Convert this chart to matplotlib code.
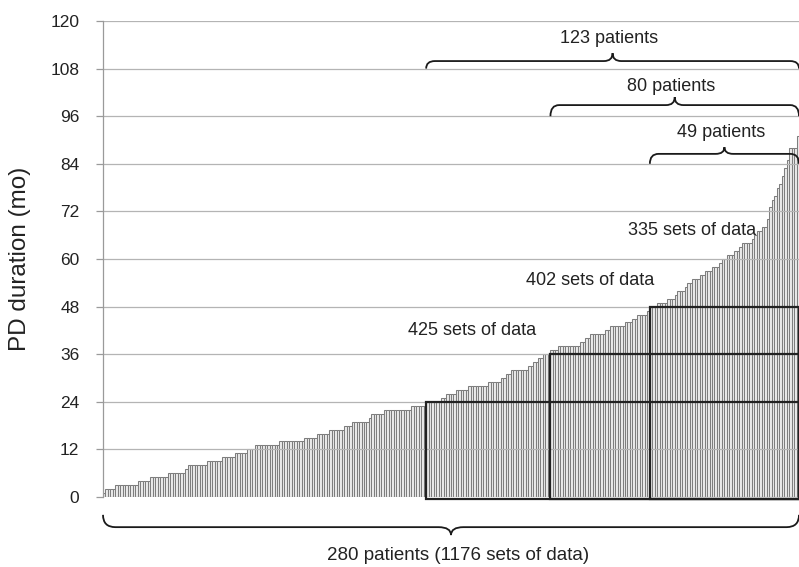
import numpy as np
import matplotlib
matplotlib.use("Agg")
import matplotlib.pyplot as plt
from matplotlib.path import Path
from matplotlib.patches import PathPatch, Rectangle

plt.rcParams['font.family'] = ['Liberation Sans', 'DejaVu Sans']

# PD duration (months) per patient, sorted ascending
durations = [
    1,
    2, 2, 2, 2,
    3, 3, 3, 3, 3, 3, 3, 3, 3,
    4, 4, 4, 4, 4,
    5, 5, 5, 5, 5, 5, 5,
    6, 6, 6, 6, 6, 6, 6,
    7,
    8, 8, 8, 8, 8, 8, 8, 8,
    9, 9, 9, 9, 9, 9,
    10, 10, 10, 10, 10,
    11, 11, 11, 11, 11,
    12, 12, 12,
    13, 13, 13, 13, 13, 13, 13, 13, 13, 13,
    14, 14, 14, 14, 14, 14, 14, 14, 14, 14,
    15, 15, 15, 15, 15,
    16, 16, 16, 16, 16,
    17, 17, 17, 17, 17, 17,
    18, 18, 18,
    19, 19, 19, 19, 19, 19, 19,
    20,
    21, 21, 21, 21, 21,
    22, 22, 22, 22, 22, 22, 22, 22, 22, 22, 22,
    23, 23, 23, 23, 23, 23,
    24, 24, 24, 24, 24, 24,
    25, 25,
    26, 26, 26, 26,
    27, 27, 27, 27, 27,
    28, 28, 28, 28, 28, 28, 28, 28,
    29, 29, 29, 29, 29,
    30, 30,
    31, 31,
    32, 32, 32, 32, 32, 32, 32,
    33, 33,
    34, 34,
    35, 35,
    36, 36, 36,
    37, 37, 37,
    38, 38, 38, 38, 38, 38, 38, 38, 38,
    39, 39,
    40, 40,
    41, 41, 41, 41, 41, 41,
    42, 42,
    43, 43, 43, 43, 43, 43,
    44, 44, 44,
    45, 45,
    46, 46, 46, 46,
    47,
    48, 48, 48,
    49, 49, 49, 49,
    50, 50, 50,
    51,
    52, 52, 52,
    53,
    54, 54,
    55, 55, 55,
    56, 56,
    57, 57, 57,
    58, 58, 58,
    59,
    60, 60,
    61, 61, 61,
    62, 62,
    63,
    64, 64, 64, 64,
    65,
    66,
    67, 67,
    68, 68,
    70, 73, 75, 76, 78, 79, 81, 83, 85,
    88, 88, 88,
    91,
]

# Groups (start patient index, threshold in months, labels)
group_starts = [130, 180, 220]
group_thresholds = [24, 36, 48]
group_patient_labels = ["123 patients", "80 patients", "49 patients"]
group_data_labels = ["425 sets of data", "402 sets of data", "335 sets of data"]
total_label = "280 patients (1176 sets of data)"

yticks = [0, 12, 24, 36, 48, 60, 72, 84, 96, 108, 120]

n = len(durations)

fig = plt.figure(figsize=(7.99, 5.67), dpi=100)
ax = fig.add_axes([103/799, 1 - 497/567, 696/799, 476/567])

x = np.arange(n) + 0.5
ax.bar(x, durations, width=1.0, facecolor='#ececec', edgecolor='#7e7e7e',
       linewidth=0.75, zorder=2)

for t in yticks:
    ax.axhline(t, color='#b4b4b4', linewidth=0.9, zorder=2.5)

ax.set_xlim(0, n)
ax.set_ylim(0, 120)
ax.set_yticks(yticks)
ax.set_xticks([])
for s in ['top', 'right', 'bottom']:
    ax.spines[s].set_visible(False)
ax.spines['left'].set_color('#9a9a9a')
ax.spines['left'].set_linewidth(0.9)
ax.tick_params(axis='y', length=5, width=0.9, color='#9a9a9a', pad=12,
               labelsize=12.5, labelcolor='#222222')
ax.set_ylabel("PD duration (mo)", fontsize=17.5, color='#222222')
ax.yaxis.set_label_coords(-0.104, 0.5)

# rectangles
for st, th in zip(group_starts, group_thresholds):
    ax.add_patch(Rectangle((st, -0.5), n - st, th + 0.5, fill=False,
                           edgecolor='#222222', linewidth=1.6, zorder=4,
                           clip_on=False))


def brace(x0, x1, y_tip, y_h, y_peak, dx=3.5):
    xm = (x0 + x1) / 2
    verts = [(x0, y_tip), (x0, y_h), (x0 + dx, y_h),
             (xm - dx, y_h),
             (xm, y_h), (xm, y_peak),
             (xm, y_h), (xm + dx, y_h),
             (x1 - dx, y_h),
             (x1, y_h), (x1, y_tip)]
    codes = [Path.MOVETO, Path.CURVE3, Path.CURVE3,
             Path.LINETO,
             Path.CURVE3, Path.CURVE3,
             Path.CURVE3, Path.CURVE3,
             Path.LINETO,
             Path.CURVE3, Path.CURVE3]
    ax.add_patch(PathPatch(Path(verts, codes), fill=False, edgecolor='#1a1a1a',
                           linewidth=1.3, zorder=5, clip_on=False))
    return xm


# top braces
brace_levels = [(108, 109.9, 111.9, 115.6), (96, 98.8, 100.8, 103.6),
                (84, 86.5, 88.2, 92.0)]
for st, lab, (yt, yh, yp, ytxt) in zip(group_starts, group_patient_labels, brace_levels):
    xm = brace(st, n, yt, yh, yp)
    ax.text(xm - 1.5, ytxt, lab, ha='center', va='center', fontsize=13,
            color='#222222', zorder=6)

# data-set labels
data_label_pos = [(148.5, 42.0), (196.0, 54.7), (237.0, 67.3)]
for lab, (tx, ty) in zip(group_data_labels, data_label_pos):
    ax.text(tx, ty, lab, ha='center', va='center', fontsize=13,
            color='#222222', zorder=6)

# bottom brace
xm = brace(0, n, -4.5, -7.6, -9.6, dx=5)
ax.text(xm + 3, -14.8, total_label, ha='center', va='center', fontsize=13.5,
        color='#222222', clip_on=False)

fig.savefig("out.png", dpi=100)
